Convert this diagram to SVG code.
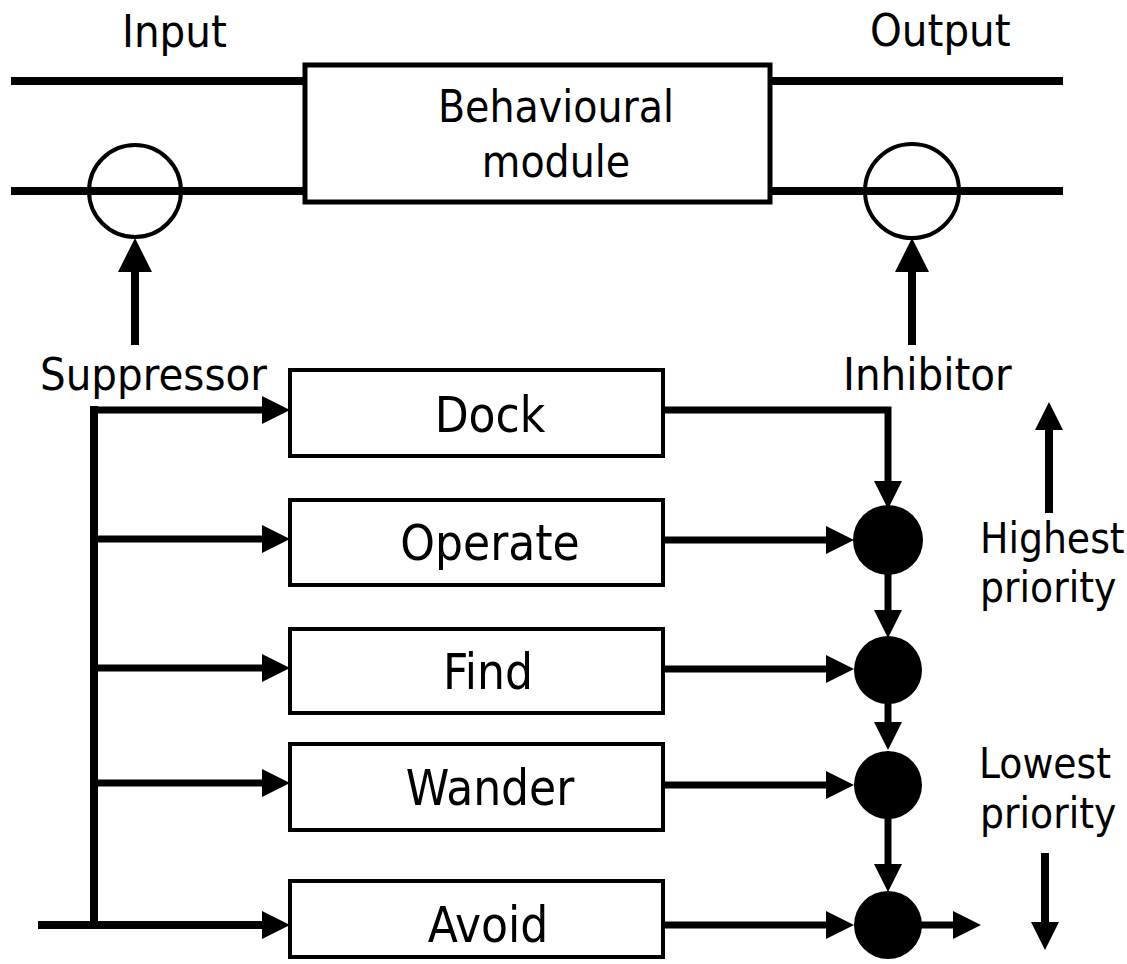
<svg xmlns="http://www.w3.org/2000/svg" width="1127" height="964" viewBox="0 0 1127 964">
<style>
.t{font-family:"DejaVu Sans Condensed","DejaVu Sans",sans-serif;font-stretch:condensed;fill:#000}
.lbl{font-size:45px}
.box{font-size:49px;text-anchor:middle}
.pri{font-size:42px}
.w8{stroke:#000;stroke-width:8;fill:none}
.w7{stroke:#000;stroke-width:7;fill:none}
.node{fill:#fff;stroke:#000;stroke-width:4}
.ring{fill:none;stroke:#000;stroke-width:4}
.dot{fill:#000}
</style>
<defs>
<marker id="ah" markerUnits="userSpaceOnUse" markerWidth="28" markerHeight="28" refX="0" refY="14" orient="auto" viewBox="0 0 28 28">
<path d="M0,0 L28,14 L0,28 Z" fill="#000"/>
</marker>
<marker id="ahb" markerUnits="userSpaceOnUse" markerWidth="34" markerHeight="34" refX="0" refY="17" orient="auto" viewBox="0 0 34 34">
<path d="M0,0 L34,17 L0,34 Z" fill="#000"/>
</marker>
</defs>
<rect width="1127" height="964" fill="#fff"/>
<g id="connectors">
<line class="w8" x1="11" y1="81" x2="305" y2="81"/>
<line class="w8" x1="11" y1="191" x2="305" y2="191"/>
<line class="w8" x1="770" y1="81" x2="1063" y2="81"/>
<line class="w8" x1="770" y1="191" x2="1063" y2="191"/>
<line class="w8" x1="135" y1="345" x2="135" y2="272" marker-end="url(#ahb)"/>
<line class="w8" x1="912" y1="345" x2="912" y2="272" marker-end="url(#ahb)"/>
<line class="w8" x1="94" y1="406" x2="94" y2="929"/>
<line class="w7" x1="90" y1="410" x2="262" y2="410" marker-end="url(#ah)"/>
<line class="w7" x1="94" y1="539" x2="262" y2="539" marker-end="url(#ah)"/>
<line class="w7" x1="94" y1="668" x2="262" y2="668" marker-end="url(#ah)"/>
<line class="w7" x1="94" y1="783" x2="262" y2="783" marker-end="url(#ah)"/>
<line class="w8" x1="38" y1="925" x2="262" y2="925" marker-end="url(#ah)"/>
<polyline class="w7" points="663,410 888,410 888,481" marker-end="url(#ah)"/>
<line class="w7" x1="663" y1="540" x2="826" y2="540" marker-end="url(#ah)"/>
<line class="w7" x1="663" y1="669" x2="826" y2="669" marker-end="url(#ah)"/>
<line class="w7" x1="663" y1="785" x2="826" y2="785" marker-end="url(#ah)"/>
<line class="w7" x1="663" y1="925" x2="826" y2="925" marker-end="url(#ah)"/>
<line class="w7" x1="888" y1="570" x2="888" y2="610" marker-end="url(#ah)"/>
<line class="w7" x1="888" y1="700" x2="888" y2="722" marker-end="url(#ah)"/>
<line class="w7" x1="888" y1="815" x2="888" y2="864" marker-end="url(#ah)"/>
<line class="w7" x1="915" y1="925" x2="953" y2="925" marker-end="url(#ah)"/>
<line class="w8" x1="1049" y1="513" x2="1049" y2="430" marker-end="url(#ah)"/>
<line class="w8" x1="1045" y1="853" x2="1045" y2="922" marker-end="url(#ah)"/>
</g>
<g id="behavioural-module">
<rect class="node" x="305" y="65" width="465" height="137" style="stroke-width:5"/>
<text class="t" x="556" y="122" font-size="44" text-anchor="middle">Behavioural</text>
<text class="t" x="556" y="177" font-size="44" text-anchor="middle">module</text>
</g>
<g id="suppressor">
<circle class="ring" cx="135" cy="191" r="46"/>
</g>
<g id="inhibitor">
<circle class="ring" cx="912" cy="191" r="47"/>
</g>
<g id="dock">
<rect class="node" x="290" y="370" width="373" height="86"/>
<text class="t box" x="490" y="432">Dock</text>
</g>
<g id="operate">
<rect class="node" x="290" y="500" width="373" height="85"/>
<text class="t box" x="490" y="560">Operate</text>
</g>
<g id="find">
<rect class="node" x="290" y="629" width="373" height="84"/>
<text class="t box" x="488" y="689">Find</text>
</g>
<g id="wander">
<rect class="node" x="290" y="744" width="373" height="86"/>
<text class="t box" x="490" y="805">Wander</text>
</g>
<g id="avoid">
<rect class="node" x="290" y="881" width="373" height="76"/>
<text class="t box" x="488" y="942">Avoid</text>
</g>
<g id="junctions">
<circle class="dot" cx="888" cy="540" r="35"/>
<circle class="dot" cx="888" cy="670" r="34"/>
<circle class="dot" cx="888" cy="785" r="34"/>
<circle class="dot" cx="888" cy="925" r="34"/>
</g>
<g id="labels">
<text class="t lbl" x="122" y="47">Input</text>
<text class="t lbl" x="870" y="46">Output</text>
<text class="t lbl" x="40" y="390">Suppressor</text>
<text class="t lbl" x="843" y="390">Inhibitor</text>
<text class="t pri" x="980" y="553">Highest</text>
<text class="t pri" x="980" y="602">priority</text>
<text class="t pri" x="979" y="778">Lowest</text>
<text class="t pri" x="980" y="828">priority</text>
</g>
</svg>
